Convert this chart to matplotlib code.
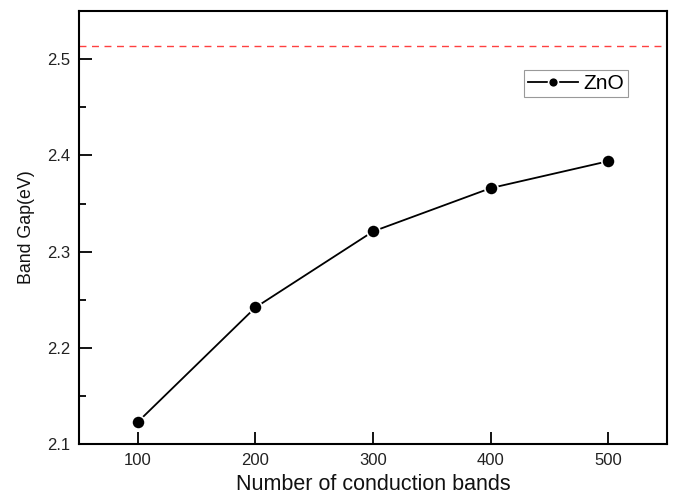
import numpy as np
import matplotlib
matplotlib.use("Agg")
from matplotlib import pyplot as plt
from matplotlib.ticker import MultipleLocator

plt.rcParams['font.family'] = ['Liberation Sans', 'DejaVu Sans']

bands = [100, 200, 300, 400, 500]
gap = [2.123, 2.242, 2.321, 2.366, 2.394]
ref_gap = 2.5135  # dashed reference level

fig = plt.figure(figsize=(6.74, 4.98), dpi=100)
ax = fig.add_axes([0.117, 0.108, 0.873, 0.870])

ax.axhline(ref_gap, color='#ff4040', lw=1.0, ls=(0, (5, 4)))
ax.plot(bands, gap, color='black', lw=1.3, marker='o', ms=9.5,
        mfc='black', mec='white', mew=1.2, label='ZnO')

ax.set_xlim(50, 550)
ax.set_ylim(2.1, 2.55)
ax.xaxis.set_major_locator(MultipleLocator(100))
ax.yaxis.set_major_locator(MultipleLocator(0.1))
ax.yaxis.set_minor_locator(MultipleLocator(0.05))
ax.tick_params(direction='in', length=9, width=1.3, labelsize=12, pad=6,
               labelcolor='#222222')
ax.tick_params(which='minor', direction='in', length=5, width=1.3)
ax.tick_params(axis='x', which='minor', length=0)
for s in ax.spines.values():
    s.set_linewidth(1.5)

ax.set_xlabel('Number of conduction bands', fontsize=15.5, labelpad=5,
              color='#111111')
ax.set_ylabel('Band Gap(eV)', fontsize=12.8, labelpad=9, color='#111111')

leg = ax.legend(loc='upper right', bbox_to_anchor=(0.934, 0.864), fontsize=15,
                frameon=True, fancybox=False, handlelength=2.4, handletextpad=0.25,
                borderpad=0.2, borderaxespad=0, markerscale=0.75)
leg.get_frame().set_edgecolor('#808080')
leg.get_frame().set_linewidth(0.8)

fig.savefig('out.png', dpi=100)
